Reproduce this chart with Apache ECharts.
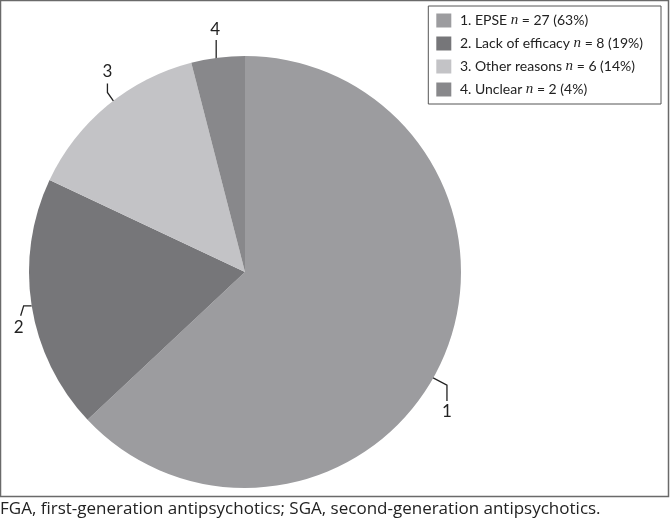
<!DOCTYPE html>
<html>
<head>
<meta charset="utf-8">
<script src="https://cdn.jsdelivr.net/npm/echarts@6/dist/echarts.min.js"></script>
<style>
  html, body { margin: 0; padding: 0; background: #fff; }
  #chart { width: 670px; height: 526px; }
</style>
</head>
<body>
<div id="chart"></div>
<script>
// reasons, counts, shares
const categories = ['1. EPSE', '2. Lack of efficacy', '3. Other reasons', '4. Unclear'];
const sliceLabels = ['1', '2', '3', '4'];
const counts = [27, 8, 6, 2];
const percents = [63, 19, 14, 4];
const colors = ['#9c9c9f', '#767679', '#c3c3c6', '#88888b'];

const font = 'Lato, "Open Sans", sans-serif';
const CX = 245, CY = 272, R = 216;

// leader-line shape per slice: angle tweak, anchor radius, two segments, text placement
const leader = [
  { shift: 6, r: 210, seg1: [19, 10], seg2: [0, 16], text: [0, 2], va: 'top' },
  { shift: 0, r: 216, seg1: [-8, 0], seg2: [-3, 10], text: [-2, 3], va: 'top' },
  { shift: 2, r: 214, seg1: [-7, -10], seg2: [0, -9], text: [0, -3], va: 'bottom' },
  { shift: -0.5, r: 215, seg1: [0, -10], seg2: [0, -9], text: [-1, -2], va: 'bottom' }
];

const total = percents.reduce(function (a, b) { return a + b; }, 0);
function midAngle(i) {
  let before = 0;
  for (let k = 0; k < i; k++) before += percents[k];
  return (before + percents[i] / 2) / total * 360;
}

const chart = echarts.init(document.getElementById('chart'), null, { renderer: 'canvas' });

chart.setOption({
  animation: false,
  graphic: [
    {
      type: 'rect',
      shape: { x: 0.5, y: 0.5, width: 668, height: 496 },
      style: { fill: 'none', stroke: '#6a6a6a', lineWidth: 1.5 },
      silent: true
    },
    {
      type: 'text',
      left: 0,
      top: 501,
      style: {
        text: 'FGA, first-generation antipsychotics; SGA, second-generation antipsychotics.',
        font: '17px "Open Sans", sans-serif',
        fill: '#222'
      }
    }
  ],
  legend: {
    orient: 'vertical',
    right: 9,
    top: 6,
    padding: [7, 18, 7, 8],
    itemWidth: 15,
    itemHeight: 14,
    itemGap: 8,
    borderColor: '#555',
    borderWidth: 1,
    icon: 'rect',
    data: categories,
    formatter: function (name) {
      const i = categories.indexOf(name);
      return ' ' + name + ' {n|n} = ' + counts[i] + ' (' + percents[i] + '%)';
    },
    textStyle: {
      fontFamily: font,
      fontSize: 14,
      color: '#222',
      rich: {
        n: { fontFamily: '"Liberation Serif", serif', fontStyle: 'italic', fontSize: 15, color: '#222' }
      }
    }
  },
  series: [
    {
      type: 'pie',
      center: [CX, CY],
      radius: R,
      startAngle: 90,
      clockwise: true,
      avoidLabelOverlap: false,
      data: categories.map(function (c, i) {
        return { name: c, value: percents[i], itemStyle: { color: colors[i] } };
      }),
      label: {
        show: true,
        formatter: function (p) { return sliceLabels[p.dataIndex]; },
        fontFamily: font,
        fontSize: 17,
        color: '#222',
        overflow: 'none',
        edgeDistance: 0,
        bleedMargin: 0
      },
      labelLine: {
        show: true,
        length: 10,
        length2: 6,
        lineStyle: { color: '#222', width: 1.3 }
      },
      labelLayout: function (params) {
        const i = params.dataIndex;
        const L = leader[i];
        const a = (midAngle(i) + L.shift) * Math.PI / 180;
        const p0 = [CX + L.r * Math.sin(a), CY - L.r * Math.cos(a)];
        const p1 = [p0[0] + L.seg1[0], p0[1] + L.seg1[1]];
        const p2 = [p1[0] + L.seg2[0], p1[1] + L.seg2[1]];
        return {
          x: p2[0] + L.text[0],
          y: p2[1] + L.text[1],
          align: 'center',
          verticalAlign: L.va,
          labelLinePoints: [p0, p1, p2]
        };
      },
      emphasis: { disabled: true }
    }
  ]
});
</script>
</body>
</html>
